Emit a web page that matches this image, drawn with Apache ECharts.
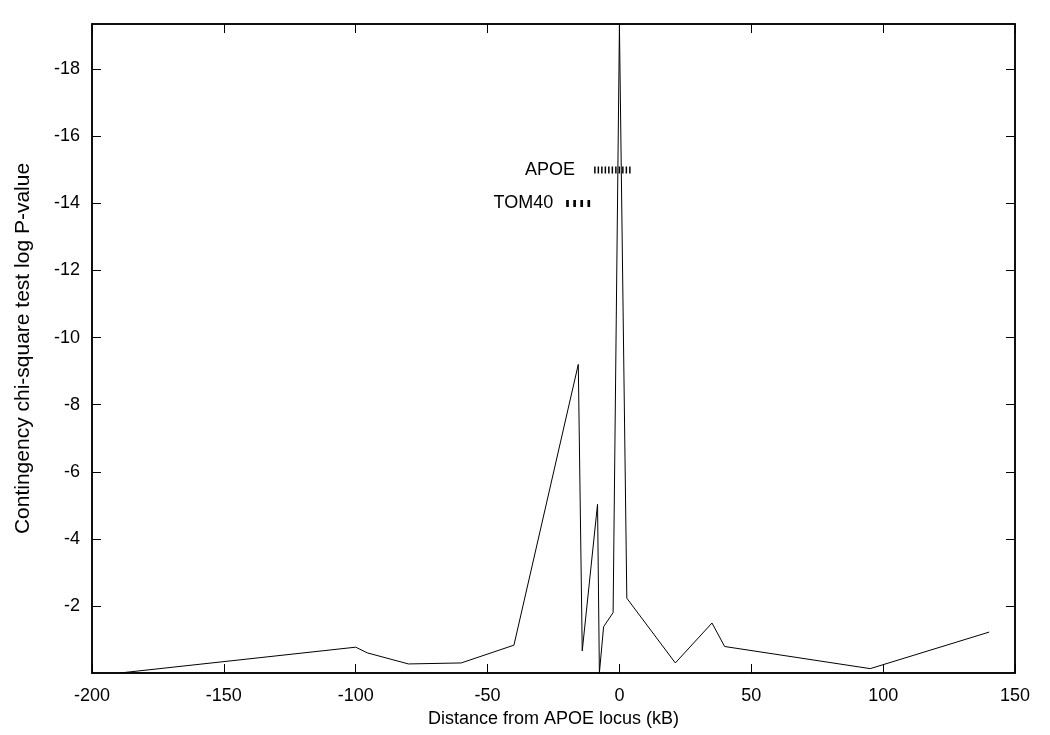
<!DOCTYPE html>
<html>
<head>
<meta charset="utf-8">
<script src="https://cdn.jsdelivr.net/npm/echarts@6/dist/echarts.min.js"></script>
<style>
  html, body { margin: 0; padding: 0; background: #fff; overflow: hidden; }
  #chart { width: 1050px; height: 735px; }
</style>
</head>
<body>
<div id="chart"></div>
<script>
// distance from APOE locus (kB) and log P-value
const distances = [-189.5, -100, -95.6, -80, -60, -40, -15.6, -14.1, -8.3, -7.6, -6, -2.4, 0, 2.8, 21.2, 35.1, 39.9, 95.1, 140.2];
const logP = [0, -0.77, -0.60, -0.27, -0.30, -0.83, -9.2, -0.66, -5.03, 0, -1.38, -1.80, -19.3, -2.23, -0.30, -1.49, -0.79, -0.13, -1.22];

// gene spans
const apoeSpan = [-9.6, 4.5];
const apoeLevel = -15;
const tom40Span = [-20.2, -11.1];
const tom40Level = -14;

const xTicks = [-200, -150, -100, -50, 0, 50, 100, 150];
const yTicks = [-18, -16, -14, -12, -10, -8, -6, -4, -2];

const font = 'Liberation Sans, Arial, sans-serif';
const chart = echarts.init(document.getElementById('chart'));

const lineData = distances.map((d, i) => [d, logP[i]]);

const tickStyle = { inside: true, length: 9, lineStyle: { color: '#000', width: 1 } };

const option = {
  animation: false,
  grid: {
    left: 92, right: 35, top: 24, bottom: 62,
    containLabel: false, outerBoundsMode: 'none',
    show: true, borderColor: '#000', borderWidth: 1.5, backgroundColor: 'transparent'
  },
  xAxis: [
    {
      type: 'value', min: -200, max: 150, interval: 50,
      name: 'Distance from APOE locus (kB)', nameLocation: 'middle', nameGap: 36,
      nameTextStyle: { fontFamily: font, fontSize: 18, color: '#000' },
      axisLine: { show: true, onZero: false, lineStyle: { color: '#000', width: 1.5 } },
      axisTick: Object.assign({ customValues: xTicks }, tickStyle),
      axisLabel: { customValues: xTicks, fontFamily: font, fontSize: 18, color: '#000', margin: 14 },
      splitLine: { show: false }
    },
    {
      type: 'value', min: -200, max: 150, position: 'top',
      axisLine: { show: true, onZero: false, lineStyle: { color: '#000', width: 1.5 } },
      axisTick: Object.assign({ customValues: xTicks }, tickStyle),
      axisLabel: { show: false },
      splitLine: { show: false }
    }
  ],
  yAxis: [
    {
      type: 'value', min: -19.35, max: 0, inverse: true,
      name: 'Contingency chi-square test log P-value', nameLocation: 'middle', nameGap: 58,
      nameTextStyle: { fontFamily: font, fontSize: 21, color: '#000' },
      axisLine: { show: true, onZero: false, lineStyle: { color: '#000', width: 1.5 } },
      axisTick: Object.assign({ customValues: yTicks }, tickStyle),
      axisLabel: { customValues: yTicks, fontFamily: font, fontSize: 18, color: '#000', margin: 12 },
      splitLine: { show: false }
    },
    {
      type: 'value', min: -19.35, max: 0, inverse: true, position: 'right',
      axisLine: { show: true, onZero: false, lineStyle: { color: '#000', width: 1.5 } },
      axisTick: Object.assign({ customValues: yTicks }, tickStyle),
      axisLabel: { show: false },
      splitLine: { show: false }
    }
  ],
  series: [
    {
      type: 'line', data: lineData, showSymbol: false, symbol: 'none',
      lineStyle: { color: '#000', width: 1 }, clip: true
    },
    {
      type: 'line', data: apoeSpan.map(x => [x, apoeLevel]), symbol: 'none',
      lineStyle: { color: '#000', width: 7, type: [1.5, 2], cap: 'butt' }
    },
    {
      type: 'line', data: tom40Span.map(x => [x, tom40Level]), symbol: 'none',
      lineStyle: { color: '#000', width: 7, type: [2.7, 4.4], cap: 'butt' }
    },
    {
      type: 'scatter', symbolSize: 0, itemStyle: { opacity: 1 },
      data: [
        { value: [apoeSpan[0], apoeLevel, 'APOE'], label: { distance: 19 } },
        { value: [tom40Span[0], tom40Level, 'TOM40'], label: { distance: 13 } }
      ],
      label: {
        show: true, position: 'left',
        formatter: p => p.value[2],
        fontFamily: font, fontSize: 18, color: '#000'
      }
    }
  ]
};

chart.setOption(option);
</script>
</body>
</html>
